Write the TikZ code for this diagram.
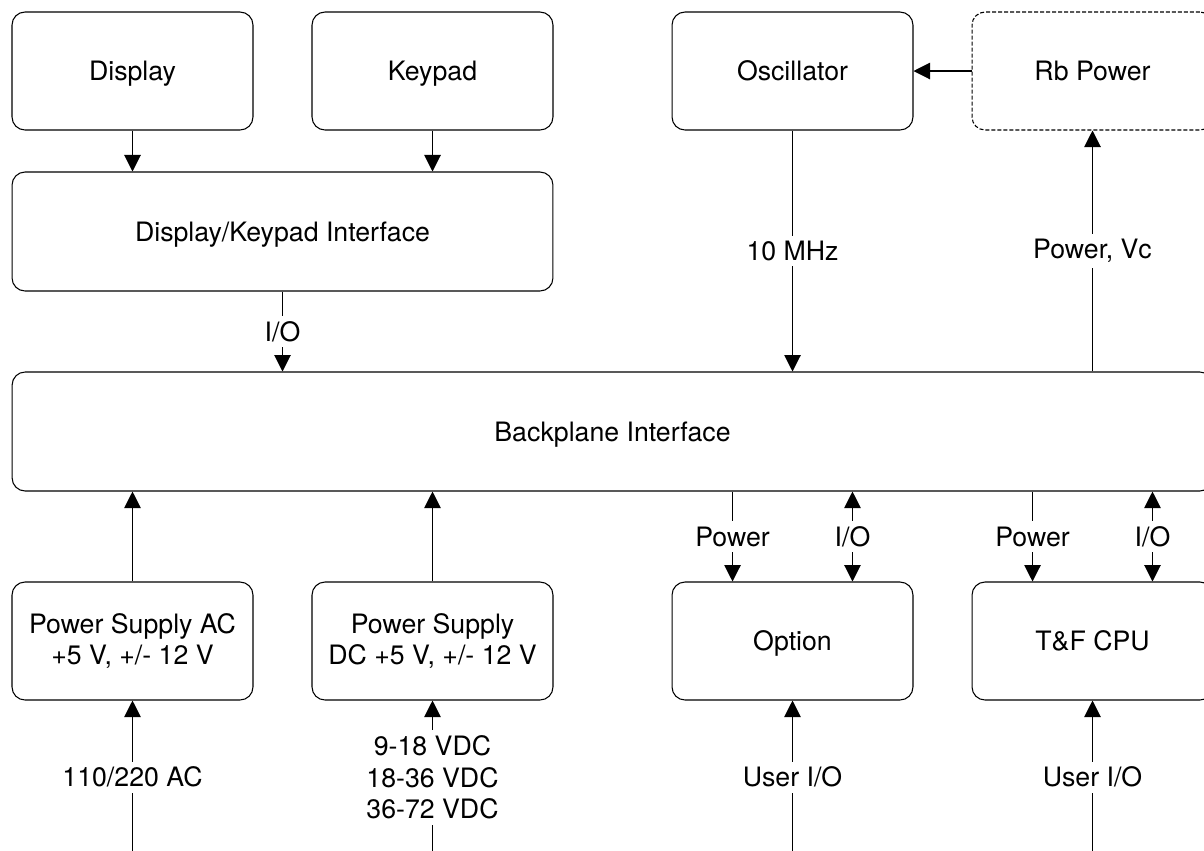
\documentclass[tikz,border=0pt]{standalone}
\usepackage{fontspec}
\setmainfont{TeX Gyre Heros}
\usetikzlibrary{arrows.meta}
\begin{document}
\begin{tikzpicture}[x=0.02cm,y=-0.02cm,
 box/.style={draw, line width=0.6pt, rounded corners=0.26cm, minimum width=4.82cm, minimum height=2.36cm, align=center, font=\fontsize{15.2}{17.5}\selectfont, inner sep=0pt},
 onebox/.style={box, text height=10.9pt, text depth=0pt},
 dashbox/.style={onebox, dash pattern=on 0.08cm off 0.04cm},
 lbl/.style={fill=white, inner sep=3pt, align=center, font=\fontsize{15.2}{18.1}\selectfont},
 arr/.style={line width=0.6pt, -{Triangle[length=0.33cm,width=0.33cm]}},
 darr/.style={line width=0.6pt, {Triangle[length=0.33cm,width=0.33cm]}-{Triangle[length=0.33cm,width=0.33cm]}},
]
\useasboundingbox (0,0) rectangle (1204,850);
\clip (0,0) rectangle (1204,850);
% nodes
\node[onebox] (disp) at (132.5,71) {Display};
\node[onebox] (key) at (432.5,71) {Keypad};
\node[onebox] (osc) at (792.5,71) {Oscillator};
\node[dashbox] (rb) at (1092.5,71) {Rb Power};
\node[onebox, minimum width=10.82cm, minimum height=2.38cm] (dki) at (282.5,231.5) {Display/Keypad Interface};
\node[onebox, minimum width=24.02cm, minimum height=2.38cm] (bp) at (612.5,431.5) {Backplane Interface};
\node[box] (psac) at (132.5,641) {Power Supply AC\\+5 V, +/- 12 V};
\node[box] (psdc) at (432.5,641) {Power Supply\\DC +5 V, +/- 12 V};
\node[onebox] (opt) at (792.5,641) {Option};
\node[onebox] (tf) at (1092.5,641) {T\&F CPU};
% connector anchors
\coordinate (optp) at ([xshift=-1.2cm]opt.north);
\coordinate (opti) at ([xshift=1.2cm]opt.north);
\coordinate (tfp) at ([xshift=-1.2cm]tf.north);
\coordinate (tfi) at ([xshift=1.2cm]tf.north);
\coordinate (acin) at (132.5,854);
\coordinate (dcin) at (432.5,854);
\coordinate (optin) at (792.5,854);
\coordinate (tfin) at (1092.5,854);
% connectors
\draw[arr] (disp.south) -- (disp.south |- dki.north);
\draw[arr] (key.south) -- (key.south |- dki.north);
\draw[arr] (rb.west) -- (osc.east);
\draw[arr] (dki.south) -- (dki.south |- bp.north) node[lbl, midway] {I/O};
\draw[arr] (osc.south) -- (osc.south |- bp.north) node[lbl, midway] {10 MHz};
\draw[arr] (rb.south |- bp.north) -- (rb.south) node[lbl, midway] {Power, Vc};
\draw[arr] (psac.north) -- (psac.north |- bp.south);
\draw[arr] (psdc.north) -- (psdc.north |- bp.south);
\draw[arr] (optp |- bp.south) -- (optp) node[lbl, midway] {Power};
\draw[darr] (opti |- bp.south) -- (opti) node[lbl, midway] {I/O};
\draw[arr] (tfp |- bp.south) -- (tfp) node[lbl, midway] {Power};
\draw[darr] (tfi |- bp.south) -- (tfi) node[lbl, midway] {I/O};
\draw[arr] (acin) -- (psac.south) node[lbl, midway] {110/220 AC};
\draw[arr] (dcin) -- (psdc.south) node[lbl, midway] {9-18 VDC\\18-36 VDC\\36-72 VDC};
\draw[arr] (optin) -- (opt.south) node[lbl, midway] {User I/O};
\draw[arr] (tfin) -- (tf.south) node[lbl, midway] {User I/O};
\end{tikzpicture}
\end{document}
